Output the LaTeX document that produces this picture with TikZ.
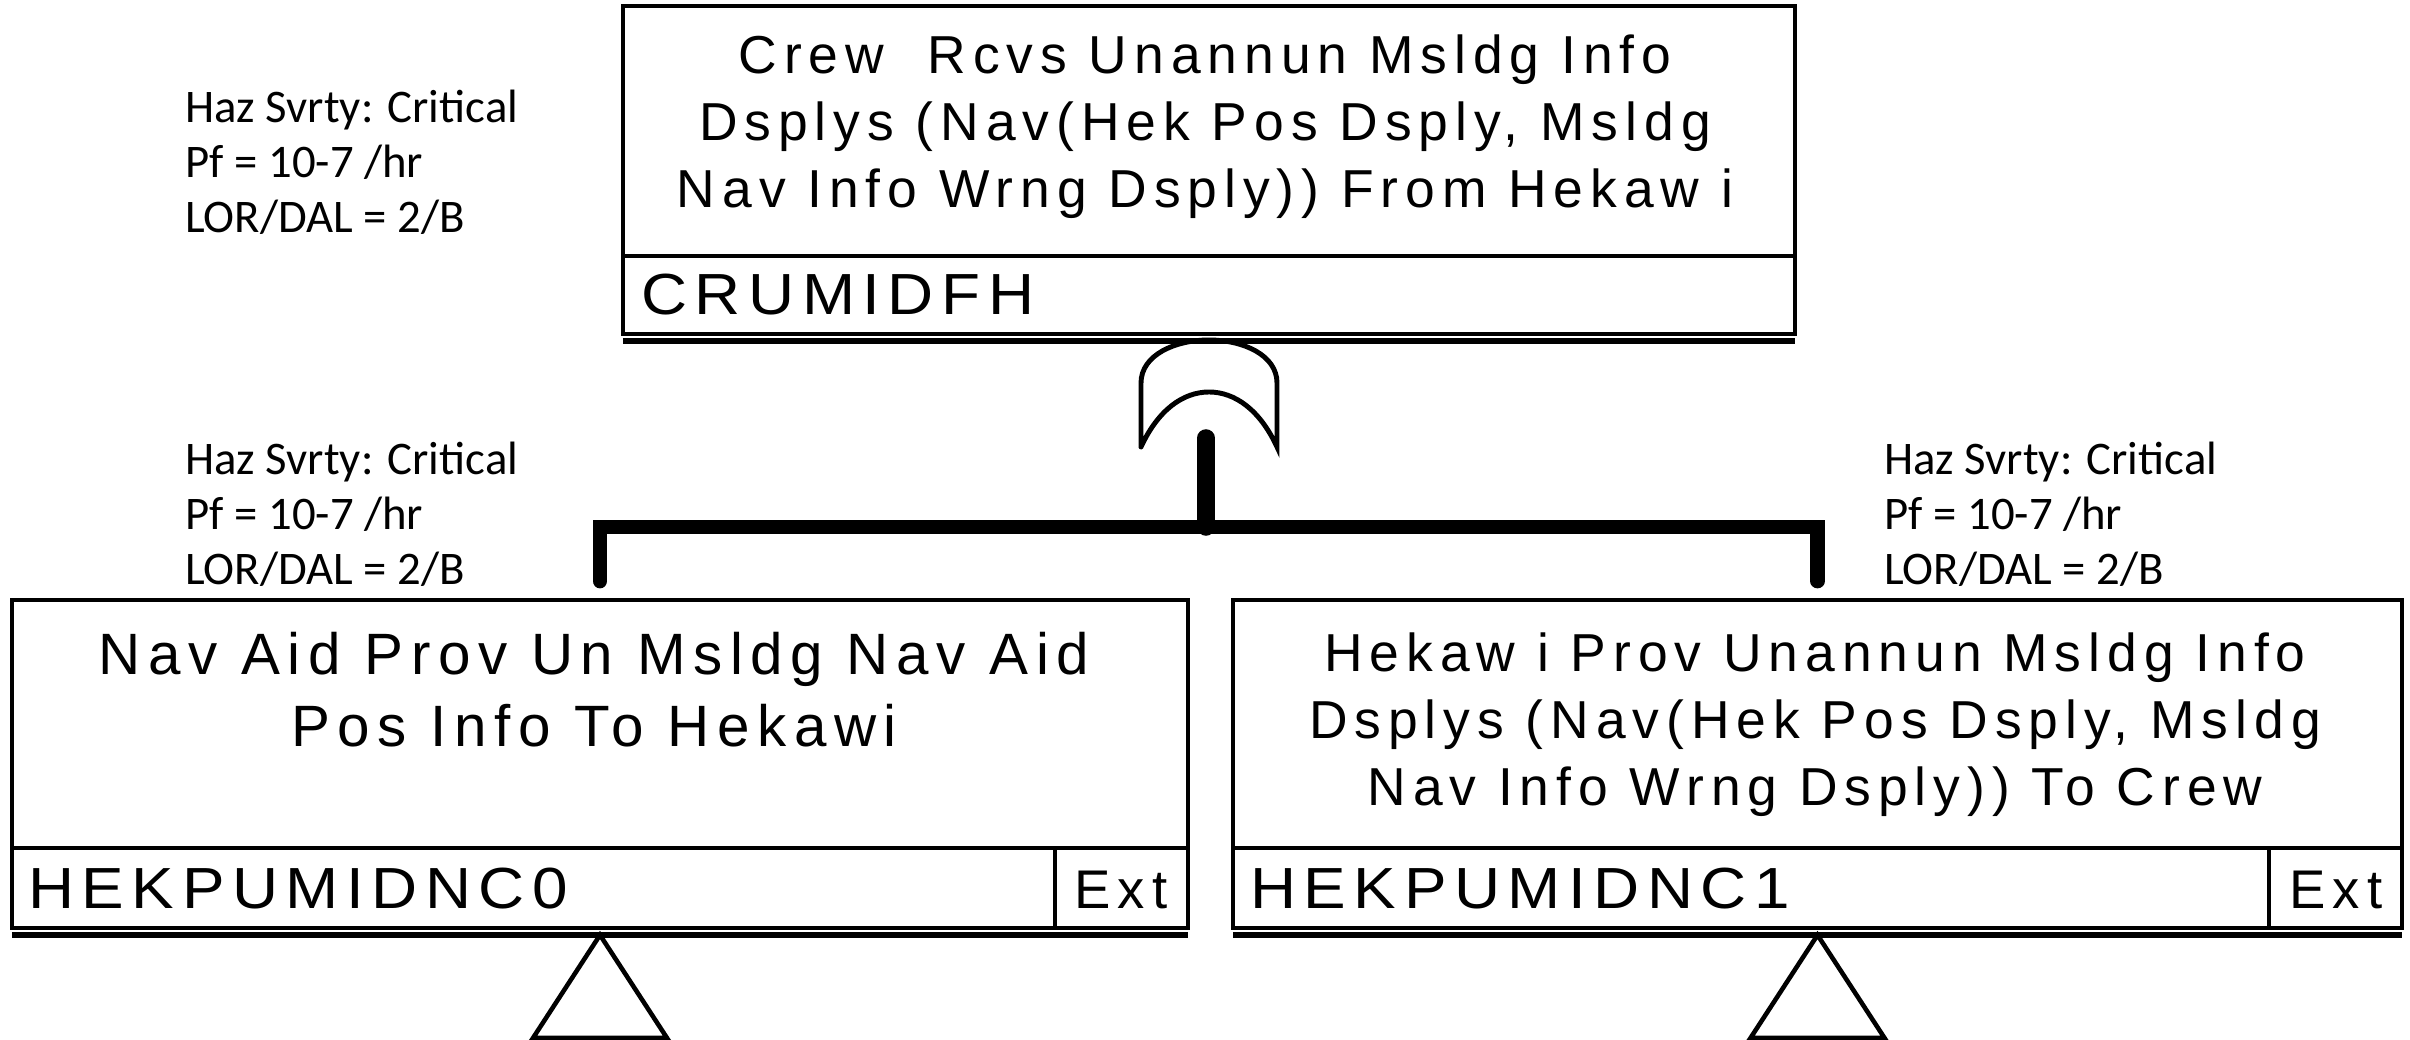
\documentclass[tikz,border=0pt]{standalone}
\usepackage{fontspec}
\setmainfont{Carlito}
\newfontfamily\descfont[LetterSpace=13]{Liberation Sans}
\newfontfamily\codefont[FakeStretch=1.1,LetterSpace=13]{Liberation Sans}
\usetikzlibrary{positioning,calc}

\begin{document}
\begin{tikzpicture}[font=\fontsize{13.3pt}{15.6pt}\selectfont,node distance=4.5mm,line width=1.3pt]
  \tikzstyle{box}=[draw,inner sep=0pt,outer sep=0pt,minimum height=3.28cm]
  \tikzstyle{desc}=[font=\descfont\fontsize{15.2pt}{19pt}\selectfont,align=center,anchor=north,inner sep=0pt]
  \tikzstyle{code}=[font=\codefont\fontsize{16.5pt}{19pt}\selectfont,anchor=base west,inner sep=0pt]
  \tikzstyle{ext}=[font=\descfont\fontsize{15.5pt}{18pt}\selectfont,anchor=base,inner sep=0pt]
  \tikzstyle{note}=[align=left,anchor=north west,inner sep=0pt]
  \tikzstyle{bar}=[line width=4.2pt]
  \useasboundingbox (0,0) rectangle (24.10,-10.40);

  \node[box,minimum width=11.72cm,anchor=north west] (crew) at (6.23,-0.06) {};
  \node[box,minimum width=11.76cm,anchor=north west] (nav) at (0.12,-6.00) {};
  \node[box,minimum width=11.69cm,right=of nav] (hek) {};

  % id rows and double bottom edge
  \draw ($(crew.south west)+(0,0.78)$) -- ($(crew.south east)+(0,0.78)$);
  \draw[line width=1.6pt] ($(crew.south west)+(0,-0.07)$) -- ($(crew.south east)+(0,-0.07)$);
  \foreach \b in {nav,hek} {
    \draw ($(\b.south west)+(0,0.80)$) -- ($(\b.south east)+(0,0.80)$);
    \draw[line width=1.6pt] ($(\b.south west)+(0,-0.07)$) -- ($(\b.south east)+(0,-0.07)$);
    \draw ($(\b.south east)+(-1.33,0)$) -- ++(0,0.80);
    \draw ($(\b.south)+(0,-0.07)$) -- ++(-0.67,-1.03) -- ++(1.34,0) -- cycle;
  }

  \node[desc] (crewtxt) at (12.05,-0.33) {Crew~ Rcvs Unannun Msldg Info\\Dsplys (Nav(Hek Pos Dsply, Msldg\\Nav Info Wrng Dsply)) From Hekaw i};
  \node[code] (crewid) at (6.39,-3.15) {CRUMIDFH};
  \node[desc,font=\descfont\fontsize{16.6pt}{20.5pt}\selectfont] (navtxt) at (5.94,-6.30) {Nav Aid Prov Un Msldg Nav Aid\\Pos Info To Hekawi};
  \node[desc] (hektxt) at (18.15,-6.31) {Hekaw i Prov Unannun Msldg Info\\Dsplys (Nav(Hek Pos Dsply, Msldg\\Nav Info Wrng Dsply)) To Crew};
  \node[code] (navid) at (0.26,-9.08) {HEKPUMIDNC0};
  \node[code] (hekid) at (12.48,-9.08) {HEKPUMIDNC1};
  \node[ext] (navext) at (11.21,-9.08) {Ext};
  \node[ext] (hekext) at (23.36,-9.08) {Ext};

  \node[note] (crewnote) at (1.83,-0.88) {Haz Svrty: Critical\\Pf = 10-7 /hr\\LOR/DAL = 2/B};
  \node[note] (navnote) at (1.83,-4.40) {Haz Svrty: Critical\\Pf = 10-7 /hr\\LOR/DAL = 2/B};
  \node[note] (heknote) at (18.82,-4.40) {Haz Svrty: Critical\\Pf = 10-7 /hr\\LOR/DAL = 2/B};

  % or gate
  \draw[line width=1.4pt,line cap=round] (11.41,-4.47) -- (11.41,-3.83)
    .. controls (11.41,-3.55) and (11.75,-3.40) .. (12.09,-3.40)
    .. controls (12.43,-3.40) and (12.77,-3.55) .. (12.77,-3.83) -- (12.77,-4.47)
    .. controls (12.60,-4.10) and (12.35,-3.92) .. (12.09,-3.92)
    .. controls (11.83,-3.92) and (11.58,-4.10) .. (11.41,-4.47);
  \coordinate (gate) at (12.06,-4.38);
  \coordinate (split) at (12.06,-5.27);
  \draw[line width=5pt,line cap=round] (gate) -- (split);
  \draw[bar,line cap=round] ($(nav.north)+(0,0.19)$) |- (split) -| ($(hek.north)+(0,0.19)$);
\end{tikzpicture}
\end{document}
